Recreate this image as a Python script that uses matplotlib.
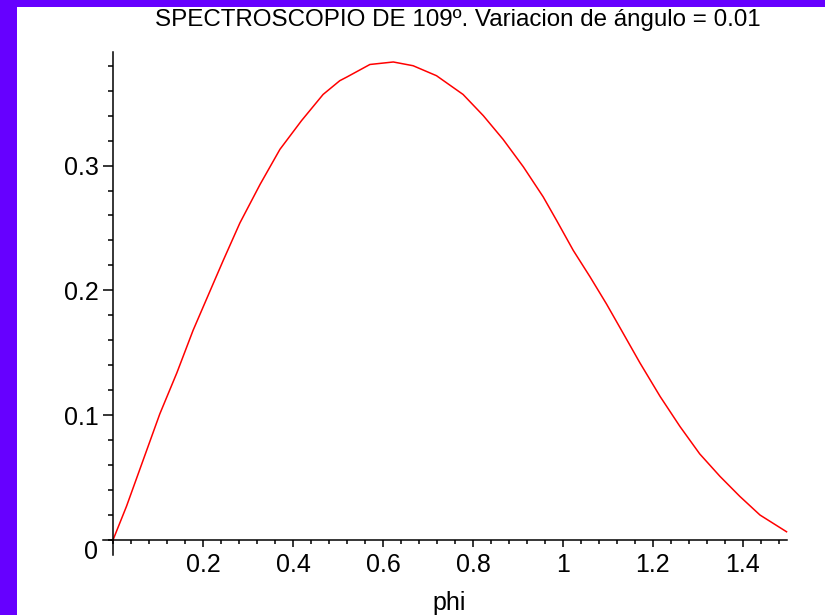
import numpy as np
import matplotlib.pyplot as plt
from matplotlib.patches import Rectangle
from matplotlib.ticker import MultipleLocator, FixedLocator

# valores
phi = [0, 0.03, 0.067, 0.104, 0.142, 0.178, 0.227, 0.245, 0.282, 0.327, 0.371,
       0.419, 0.467, 0.504, 0.52, 0.571, 0.623, 0.667, 0.719, 0.778, 0.823,
       0.867, 0.912, 0.956, 0.986, 1.023, 1.06, 1.097, 1.127, 1.171, 1.216,
       1.26, 1.304, 1.349, 1.393, 1.438, 1.497]
intensidad = [0, 0.027, 0.064, 0.101, 0.134, 0.168, 0.209, 0.224, 0.254, 0.285,
              0.313, 0.336, 0.357, 0.368, 0.371, 0.381, 0.383, 0.380, 0.372,
              0.357, 0.340, 0.321, 0.299, 0.275, 0.256, 0.232, 0.211, 0.189,
              0.170, 0.142, 0.115, 0.091, 0.069, 0.051, 0.035, 0.020, 0.0066]

xticks = [0.2, 0.4, 0.6, 0.8, 1, 1.2, 1.4]
xlabels = ["0.2", "0.4", "0.6", "0.8", "1", "1.2", "1.4"]
yticks = [0.1, 0.2, 0.3]
ylabels = ["0.1", "0.2", "0.3"]

titulo = "SPECTROSCOPIO DE 109º. Variacion de ángulo = 0.01"

plt.rcParams['font.family'] = ['Liberation Sans', 'DejaVu Sans']

W, H = 825, 615
fig = plt.figure(figsize=(W / 100, H / 100), dpi=100)
fig.patch.set_facecolor('#6600ff')
# fondo blanco
fig.patches.append(Rectangle((17 / W, 0), 1 - 17 / W, 1 - 7 / H,
                             transform=fig.transFigure, facecolor='white',
                             edgecolor='none', zorder=-5))

ax = fig.add_axes([113 / W, (H - 540) / H, 674 / W, 488 / H])
ax.set_zorder(2)
ax.set_facecolor('none')
ax.plot(phi, intensidad, color='red', lw=1.1, clip_on=False)

ax.set_xlim(0, 1.498)
ax.set_ylim(0, 0.391)

for s in ['top', 'right']:
    ax.spines[s].set_visible(False)
for s in ['left', 'bottom']:
    ax.spines[s].set_linewidth(1.1)
ax.spines['left'].set_bounds(-0.012, 0.391)
ax.spines['bottom'].set_bounds(-0.022, 1.498)

ax.xaxis.set_major_locator(FixedLocator(xticks))
ax.set_xticklabels(xlabels)
ax.xaxis.set_minor_locator(MultipleLocator(0.04))
ax.yaxis.set_major_locator(FixedLocator(yticks))
ax.set_yticklabels(ylabels)
ax.yaxis.set_minor_locator(MultipleLocator(0.02))

ax.tick_params(axis='x', which='major', length=5, width=1.1, pad=4, labelsize=18)
ax.tick_params(axis='x', which='minor', length=3, width=1.1)
ax.tick_params(axis='y', which='major', length=7, width=1.1, pad=3, labelsize=18)
ax.tick_params(axis='y', which='minor', length=3.6, width=1.1)

ax.annotate("0", xy=(0, 0), xytext=(-11, -8.6), textcoords='offset points',
            ha='right', va='center', fontsize=18)

fig.text(458 / W, 1 - 20 / H, titulo, ha='center', va='center', fontsize=17.4)
fig.text(449 / W, 1 - 603 / H, "phi", ha='center', va='center', fontsize=18)

fig.savefig("out.png", dpi=100)
